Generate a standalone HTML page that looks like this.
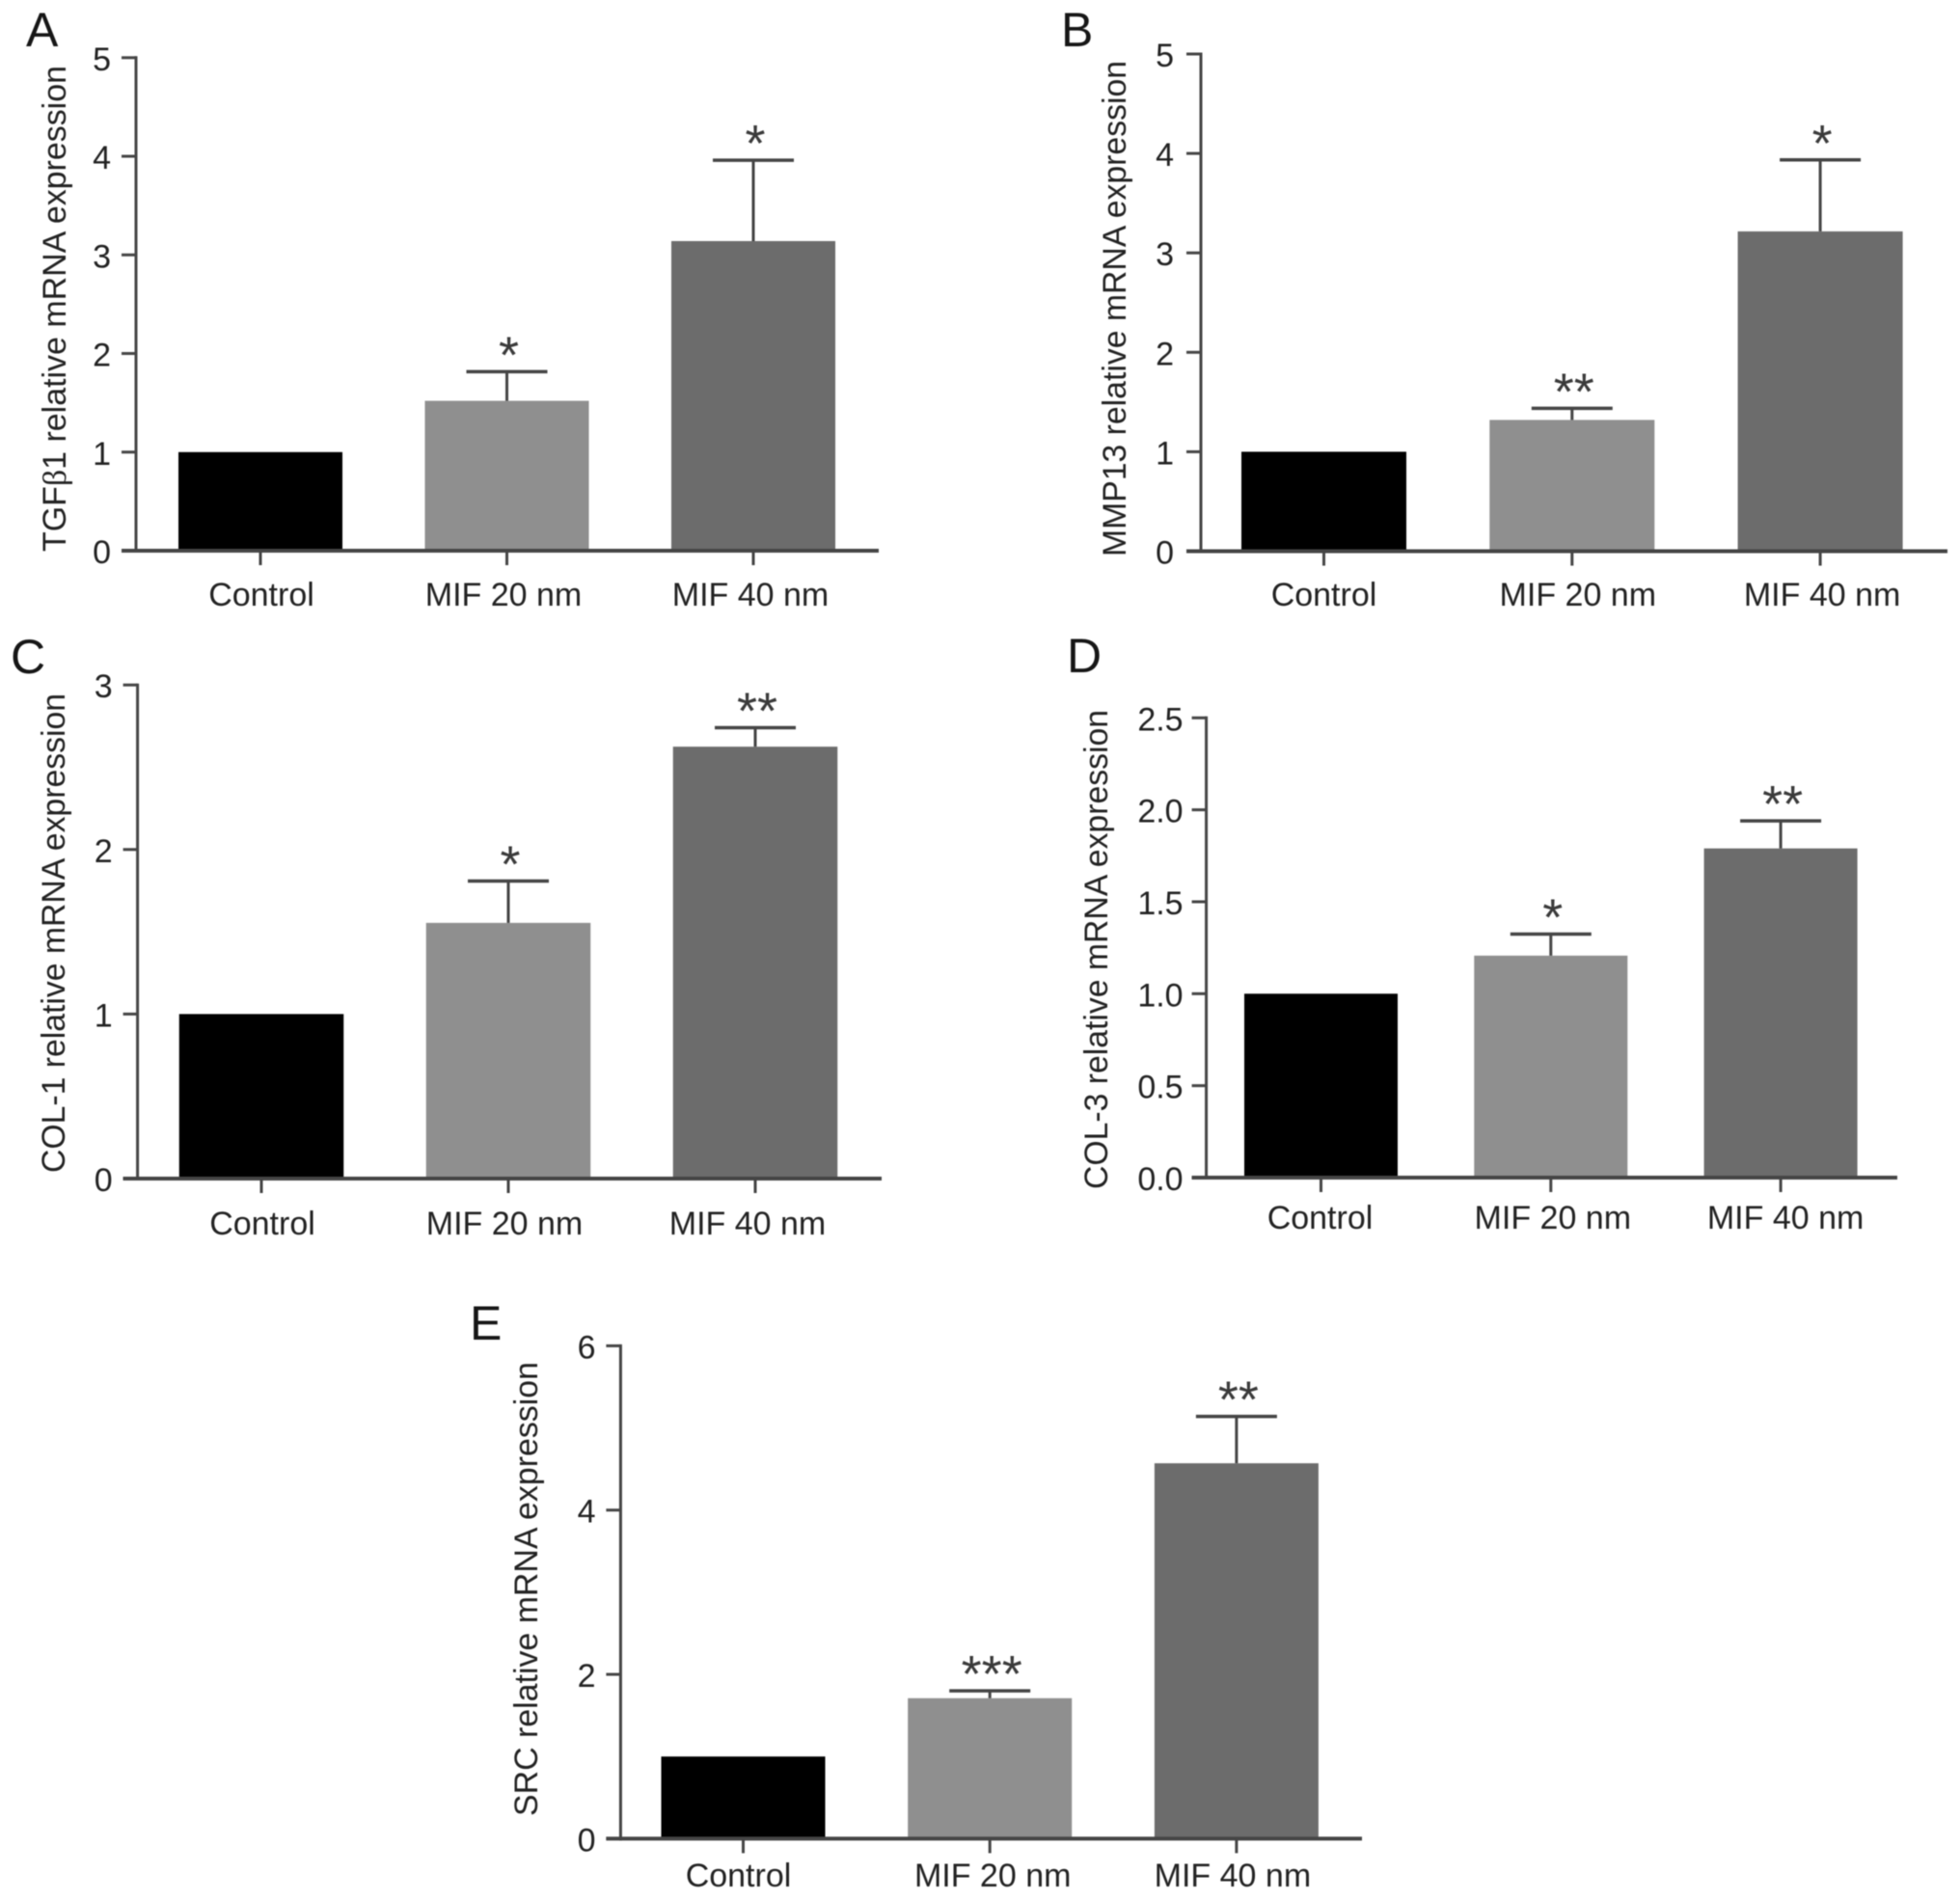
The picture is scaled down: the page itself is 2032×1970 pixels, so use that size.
<!DOCTYPE html>
<html lang="en">
<head>
<meta charset="utf-8">
<title>Relative mRNA expression panels</title>
<style>
html,body{margin:0;padding:0;background:#fff;width:2032px;height:1970px;overflow:hidden}
svg{display:block;filter:blur(0.6px)}
text{font-family:"Liberation Sans",sans-serif;fill:#222222}
.panel-letter{font-size:50px;fill:#161616}
.y-title{font-size:34px}
.tick{font-size:34px}
.star{font-size:54px;fill:#3a3a3a;text-anchor:middle}
</style>
</head>
<body>
<svg id="figure" xmlns="http://www.w3.org/2000/svg" width="2032" height="1970" viewBox="0 0 2032 1970">
  <rect x="0" y="0" width="2032" height="1970" fill="#fff"/>
  <text class="panel-letter" x="27" y="48">A</text>
  <text class="panel-letter" x="1100" y="48">B</text>
  <text class="panel-letter" x="11" y="698">C</text>
  <text class="panel-letter" x="1106" y="697">D</text>
  <text class="panel-letter" x="487" y="1389">E</text>

  <text class="y-title" transform="translate(68 572) rotate(-90)" textLength="504" lengthAdjust="spacingAndGlyphs">TGF<tspan font-family="Liberation Serif">β</tspan>1 relative mRNA expression</text>
  <text class="y-title" transform="translate(1167 577) rotate(-90)" textLength="514" lengthAdjust="spacingAndGlyphs">MMP13 relative mRNA expression</text>
  <text class="y-title" transform="translate(67 1216) rotate(-90)" textLength="497" lengthAdjust="spacingAndGlyphs">COL-1 relative mRNA expression</text>
  <text class="y-title" transform="translate(1148 1233) rotate(-90)" textLength="497" lengthAdjust="spacingAndGlyphs">COL-3 relative mRNA expression</text>
  <text class="y-title" transform="translate(557 1883) rotate(-90)" textLength="471" lengthAdjust="spacingAndGlyphs">SRC relative mRNA expression</text>
</svg>
<script>
// Shared categories
const categories = ['Control', 'MIF 20 nm', 'MIF 40 nm'];

// Panel A: TGFb1
const tgfb1Means = [1, 1.52, 3.14];
const tgfb1ErrorTops = [null, 1.815, 3.96];
const tgfb1Stars = ['', '*', '*'];
const tgfb1Ticks = [0, 1, 2, 3, 4, 5];
const tgfb1TickLabels = ['0', '1', '2', '3', '4', '5'];

// Panel B: MMP13
const mmp13Means = [1, 1.32, 3.216];
const mmp13ErrorTops = [null, 1.437, 3.935];
const mmp13Stars = ['', '**', '*'];
const mmp13Ticks = [0, 1, 2, 3, 4, 5];
const mmp13TickLabels = ['0', '1', '2', '3', '4', '5'];

// Panel C: COL-1
const col1Means = [1, 1.554, 2.625];
const col1ErrorTops = [null, 1.808, 2.74];
const col1Stars = ['', '*', '**'];
const col1Ticks = [0, 1, 2, 3];
const col1TickLabels = ['0', '1', '2', '3'];

// Panel D: COL-3
const col3Means = [1, 1.207, 1.79];
const col3ErrorTops = [null, 1.324, 1.94];
const col3Stars = ['', '*', '**'];
const col3Ticks = [0, 0.5, 1, 1.5, 2, 2.5];
const col3TickLabels = ['0.0', '0.5', '1.0', '1.5', '2.0', '2.5'];

// Panel E: SRC
const srcMeans = [1, 1.71, 4.57];
const srcErrorTops = [null, 1.80, 5.14];
const srcStars = ['', '***', '**'];
const srcTicks = [0, 2, 4, 6];
const srcTickLabels = ['0', '2', '4', '6'];

const NS = 'http://www.w3.org/2000/svg';
const figure = document.getElementById('figure');
const AXIS = '#454545';
const barColors = ['#000000', '#8f8f8f', '#6c6c6c'];

function shape(parent, tag, attrs) {
  const el = document.createElementNS(NS, tag);
  Object.keys(attrs).forEach(function (k) { el.setAttribute(k, attrs[k]); });
  parent.appendChild(el);
  return el;
}

function drawPanel(id, p, means, errorTops, stars, ticks, tickLabels) {
  const group = shape(figure, 'g', {});
  
  

  const maxTick = ticks[ticks.length - 1];
  const yScale = function (v) { return p.y0 - (v / maxTick) * (p.y0 - p.yTop); };
  const xScale = function (i) { return p.x0 + i * p.step; };

  // Bars
  means.forEach(function (m, i) {
    const top = yScale(m);
    const bar = shape(group, 'rect', { x: xScale(i) - p.barW / 2, y: top, width: p.barW, height: p.y0 - top, fill: barColors[i] });
    
    
  });

  // Error bars and significance stars
  errorTops.forEach(function (e, i) {
    if (e === null) return;
    const cx = xScale(i);
    const yE = yScale(e);
    const stem = shape(group, 'line', { x1: cx, x2: cx, y1: yScale(means[i]), y2: yE, stroke: '#454545', 'stroke-width': 3 });
    
    
    const cap = shape(group, 'line', { x1: cx - 42, x2: cx + 42, y1: yE, y2: yE, stroke: '#454545', 'stroke-width': 3.5 });
    
    
    const star = shape(group, 'text', { 'class': 'star', x: cx + 2, y: yE - 23 + 24 });
    
    
    star.textContent = stars[i];
  });

  // Y axis
  const yAxis = shape(group, 'line', { x1: p.axisX, x2: p.axisX, y1: p.yTop - 1.5, y2: p.y0 + 2, stroke: AXIS, 'stroke-width': 3 });
  
  
  ticks.forEach(function (t, i) {
    const y = yScale(t);
    const mark = shape(group, 'line', { x1: p.axisX - 15, x2: p.axisX, y1: y, y2: y, stroke: AXIS, 'stroke-width': 3 });
    
    
    const label = shape(group, 'text', { 'class': 'tick', x: p.labelRight, y: y + 13, 'text-anchor': 'end' });
    
    
    label.textContent = tickLabels[i];
  });

  // X axis
  const xAxis = shape(group, 'line', { x1: p.axisX - 15, x2: p.xEnd, y1: p.y0, y2: p.y0, stroke: AXIS, 'stroke-width': 4 });
  
  
  categories.forEach(function (c, i) {
    const cx = xScale(i);
    const mark = shape(group, 'line', { x1: cx, x2: cx, y1: p.y0, y2: p.y0 + 15, stroke: AXIS, 'stroke-width': 3 });
    
    
    const label = shape(group, 'text', { 'class': 'tick', x: cx + p.labelDx[i], y: p.labelBase, 'text-anchor': 'middle' });
    
    
    label.textContent = c;
  });
}

drawPanel('a', { axisX: 141, x0: 270, step: 255.5, barW: 170, y0: 571, yTop: 59.8, xEnd: 911, labelRight: 115, labelBase: 628, labelDx: [1, -3.5, -3] },
  tgfb1Means, tgfb1ErrorTops, tgfb1Stars, tgfb1Ticks, tgfb1TickLabels);
drawPanel('b', { axisX: 1245, x0: 1372.5, step: 257.3, barW: 171, y0: 571.5, yTop: 56, xEnd: 2019, labelRight: 1217, labelBase: 628, labelDx: [0, 6, 2] },
  mmp13Means, mmp13ErrorTops, mmp13Stars, mmp13Ticks, mmp13TickLabels);
drawPanel('c', { axisX: 142.6, x0: 271, step: 256, barW: 170.5, y0: 1222, yTop: 710.2, xEnd: 914, labelRight: 116.7, labelBase: 1280, labelDx: [1, -4, -8] },
  col1Means, col1ErrorTops, col1Stars, col1Ticks, col1TickLabels);
drawPanel('d', { axisX: 1250.6, x0: 1369.5, step: 238.3, barW: 159, y0: 1221, yTop: 744.3, xEnd: 1967, labelRight: 1226.6, labelBase: 1274, labelDx: [-1, 2, 5] },
  col3Means, col3ErrorTops, col3Stars, col3Ticks, col3TickLabels);
drawPanel('e', { axisX: 643.4, x0: 770.5, step: 255.7, barW: 170, y0: 1906.4, yTop: 1395.4, xEnd: 1412, labelRight: 617.5, labelBase: 1956, labelDx: [-5, 3, -4] },
  srcMeans, srcErrorTops, srcStars, srcTicks, srcTickLabels);
</script>
</body>
</html>
